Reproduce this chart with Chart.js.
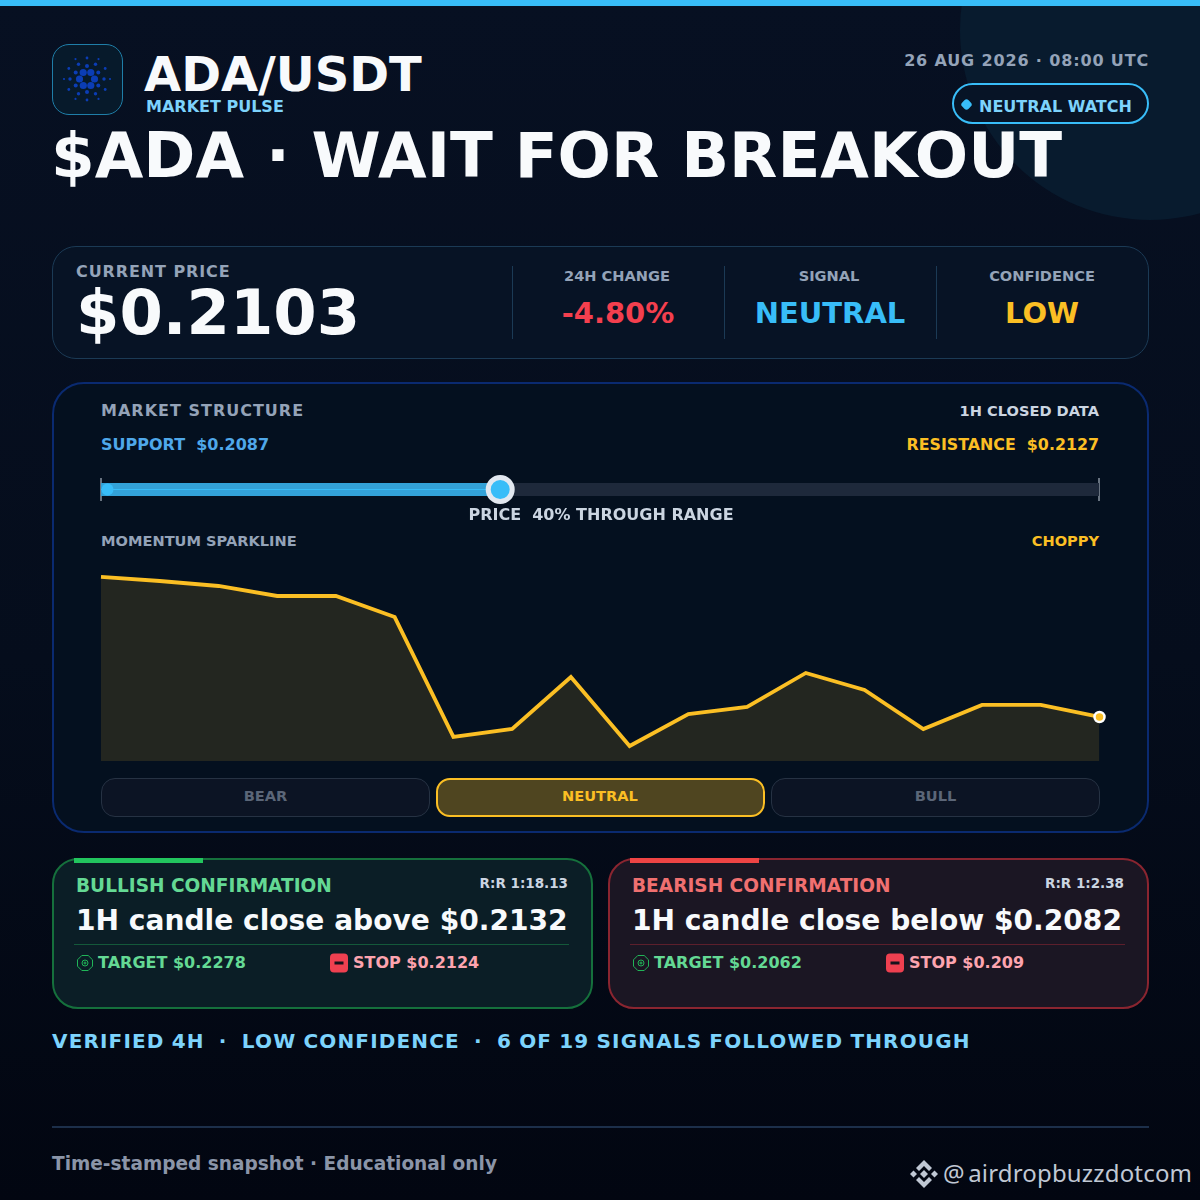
<!DOCTYPE html>
<html>
<head>
<meta charset="utf-8">
<title>ADA/USDT market pulse</title>
<script src="https://cdn.jsdelivr.net/npm/chart.js@4/dist/chart.umd.min.js"></script>
<style>
  html, body { margin: 0; padding: 0; }
  body { width: 1200px; height: 1200px; overflow: hidden; position: relative; font-family: "DejaVu Sans", sans-serif;
         background: linear-gradient(180deg, #071022 0%, #050d1c 55%, #020611 100%); }
  .box { position: absolute; box-sizing: border-box; }
  .t { position: absolute; white-space: pre; font-weight: 700; line-height: 1; }
  canvas { position: absolute; }
  svg { position: absolute; overflow: visible; }
</style>
</head>
<body>
<div class="box" style="left:0;top:0;width:1200px;height:6px;background:#38bdf8;z-index:2"></div>
<div class="box" style="left:960px;top:-160px;width:380px;height:380px;border-radius:50%;background:#081b2e"></div>

<div class="box" style="left:52px;top:44px;width:71px;height:71px;border-radius:17px;border:1px solid #1f7ea8;background:#071a2b"></div>
<svg id="logo" style="left:87px;top:79px" width="1" height="1"></svg>

<div class="box" style="left:952px;top:83px;width:197px;height:41px;border-radius:21px;border:2px solid #38bdf8;background:#071426"></div>
<div class="box" style="left:962px;top:100px;width:9px;height:9px;border-radius:3px;background:#38bdf8;transform:rotate(45deg)"></div>

<div class="box" style="left:52px;top:246px;width:1097px;height:113px;border-radius:24px;border:1px solid #1b3a55;background:#071325"></div>
<div class="box" style="left:512px;top:266px;width:1px;height:73px;background:#1b3a55"></div>
<div class="box" style="left:724px;top:266px;width:1px;height:73px;background:#1b3a55"></div>
<div class="box" style="left:936px;top:266px;width:1px;height:73px;background:#1b3a55"></div>

<div class="box" style="left:52px;top:382px;width:1097px;height:451px;border-radius:32px;border:2px solid #0a2a70;background:#04101f"></div>
<canvas id="rangeChart" width="1018" height="43" style="left:91px;top:468px;width:1018px;height:43px"></canvas>
<canvas id="sparkChart" width="1019" height="205" style="left:91px;top:566px;width:1019px;height:205px"></canvas>

<div class="box" style="left:101px;top:778px;width:329px;height:39px;border-radius:14px;border:1px solid #263243;background:#0c1424"></div>
<div class="box" style="left:436px;top:778px;width:329px;height:39px;border-radius:14px;border:2px solid #fbbf24;background:#4f4520"></div>
<div class="box" style="left:771px;top:778px;width:329px;height:39px;border-radius:14px;border:1px solid #263243;background:#0c1424"></div>

<div class="box" style="left:52px;top:858px;width:541px;height:151px;border-radius:26px;border:2px solid #15703c;background:#0b1e26"></div>
<div class="box" style="left:74px;top:858px;width:129px;height:5px;background:#22c55e"></div>
<div class="box" style="left:74px;top:944px;width:495px;height:1px;background:#14593a"></div>
<div class="box" style="left:608px;top:858px;width:541px;height:151px;border-radius:26px;border:2px solid #8a2530;background:#1b1623"></div>
<div class="box" style="left:630px;top:858px;width:129px;height:5px;background:#ef4444"></div>
<div class="box" style="left:630px;top:944px;width:495px;height:1px;background:#5c1f2c"></div>

<svg class="target" style="left:85px;top:963px" width="1" height="1"></svg>
<svg class="target" style="left:641px;top:963px" width="1" height="1"></svg>
<svg class="stop" style="left:339px;top:963px" width="1" height="1"></svg>
<svg class="stop" style="left:895px;top:963px" width="1" height="1"></svg>

<div class="box" style="left:52px;top:1126px;width:1097px;height:2px;background:#1c2f4a"></div>
<svg id="binance" style="left:924px;top:1174px" width="1" height="1">
  <g fill="#c0c8d4">
    <polygon points="0,-4 4,0 0,4 -4,0"/>
    <polygon points="-14,0 -10.5,-3.5 -7,0 -10.5,3.5"/>
    <polygon points="14,0 10.5,-3.5 7,0 10.5,3.5"/>
    <polygon points="0,-14 8,-6 5,-3 0,-8 -5,-3 -8,-6"/>
    <polygon points="0,14 8,6 5,3 0,8 -5,3 -8,6"/>
  </g>
</svg>

<script>
  // momentum, 0-100 of the sparkline's own range
  const sparkHours = ['-17h', '-16h', '-15h', '-14h', '-13h', '-12h', '-11h', '-10h', '-9h', '-8h', '-7h', '-6h', '-5h', '-4h', '-3h', '-2h', '-1h', '0h'];
  const sparkMomentum = [99.5, 97.3, 94.6, 89.2, 89.2, 77.8, 13, 17.3, 45.4, 8.1, 25.4, 29.2, 47.6, 38.4, 17.3, 30.3, 30.3, 23.8];
  // position inside the support/resistance range, percent
  const rangeStart = 0;
  const rangeEnd = 100;
  const rangeLowDot = 0.65;
  const rangePrice = 40;

  const LIGHT = '#cbd5e1', GREY = '#94a3b8', DIM = '#5b6678', WHITE = '#f8fafc', SKY = '#7dd3fc', CYAN = '#38bdf8';
  const AMBER = '#fbbf24', RED = '#f43f4e', GREEN = '#64d994', ROSE = '#fda4af', BLUE = '#4fa8ea';

  // x is the left edge, centre or right edge (by align), y is the baseline
  function txt(str, x, y, size, color, align, spacing, family, ascent) {
    let d = document.createElement('div');
    d.className = 't';
    d.textContent = str;
    d.style.fontSize = size + 'px';
    d.style.color = color;
    d.style.top = (y - (ascent || 0.846) * size) + 'px';
    if (spacing) d.style.letterSpacing = spacing + 'px';
    if (family) { d.style.fontFamily = family; d.style.fontWeight = 400; }
    if (align === 'r') d.style.right = (1200 - x) + 'px';
    else if (align === 'c') { d.style.left = (x - 300) + 'px'; d.style.width = '600px'; d.style.textAlign = 'center'; }
    else d.style.left = x + 'px';
    d.style.zIndex = 3;
    document.body.appendChild(d);
    return d;
  }

  txt('ADA/USDT', 144, 91, 48, WHITE);
  txt('MARKET PULSE', 146, 113, 16, SKY);
  txt('$ADA · WAIT FOR BREAKOUT', 51, 178, 62.8, WHITE);
  txt('26 AUG 2026 · 08:00 UTC', 1149, 67, 16, GREY, 'r', 0.85);
  txt('NEUTRAL WATCH', 979, 113, 16, SKY);

  txt('CURRENT PRICE', 76, 278, 16, GREY, 'l', 0.9);
  txt('$0.2103', 76, 335, 62.4, WHITE);
  txt('24H CHANGE', 617, 281, 14.6, GREY, 'c');
  txt('-4.80%', 618, 324, 29, RED, 'c');
  txt('SIGNAL', 829, 281, 14.6, GREY, 'c');
  txt('NEUTRAL', 830, 324, 29, CYAN, 'c');
  txt('CONFIDENCE', 1042, 281, 14.6, GREY, 'c');
  txt('LOW', 1042, 324, 29, AMBER, 'c');

  txt('MARKET STRUCTURE', 101, 417, 16, GREY, 'l', 1);
  txt('1H CLOSED DATA', 1099, 416, 14.6, LIGHT, 'r');
  txt('SUPPORT  $0.2087', 101, 451, 16, BLUE);
  txt('RESISTANCE  $0.2127', 1099, 450, 15.85, AMBER, 'r');
  txt('PRICE  40% THROUGH RANGE', 601, 521, 16, LIGHT, 'c');
  txt('MOMENTUM SPARKLINE', 101, 546, 14.6, GREY);
  txt('CHOPPY', 1099, 546, 14.6, AMBER, 'r');

  txt('BEAR', 265.5, 801, 14.6, DIM, 'c');
  txt('NEUTRAL', 600, 801, 14.6, AMBER, 'c');
  txt('BULL', 935.5, 801, 14.6, DIM, 'c');

  txt('BULLISH CONFIRMATION', 76, 893, 18.55, GREEN);
  txt('R:R 1:18.13', 568, 888, 13.5, LIGHT, 'r');
  txt('1H candle close above $0.2132', 76, 931, 28.1, WHITE);
  txt('TARGET $0.2278', 98, 969, 16, GREEN);
  txt('STOP $0.2124', 353, 969, 16, ROSE);

  txt('BEARISH CONFIRMATION', 632, 893, 18.55, '#f07070');
  txt('R:R 1:2.38', 1124, 888, 13.5, LIGHT, 'r');
  txt('1H candle close below $0.2082', 632, 931, 28.1, WHITE);
  txt('TARGET $0.2062', 654, 969, 16, GREEN);
  txt('STOP $0.209', 909, 969, 16, ROSE);

  txt('VERIFIED 4H  ·  LOW CONFIDENCE  ·  6 OF 19 SIGNALS FOLLOWED THROUGH', 52, 1048, 20, SKY, 'l', 1.15).style.wordSpacing = '-1px';
  txt('Time-stamped snapshot · Educational only', 52, 1171, 18.55, '#8b95a8');
  txt('@ airdropbuzzdotcom', 943, 1182, 24, '#c0c8d4', 'l', 0.17, '"Noto Sans", sans-serif', 0.888).style.wordSpacing = '-3px';

  // cardano style dot rings: radius, dot radius, angle offset
  const logoRings = [[7.5, 3.6, 0], [13, 2, 30], [17, 1.7, 0], [21, 1.4, 30], [23, 1.1, 0]];
  let logoSvg = '';
  logoRings.forEach(function(ring) {
    for (let i = 0; i < 6; i++) {
      let a = (ring[2] + i * 60) * Math.PI / 180;
      logoSvg += '<circle cx="' + (ring[0] * Math.cos(a)).toFixed(1) + '" cy="' + (ring[0] * Math.sin(a)).toFixed(1) + '" r="' + ring[1] + '" fill="#0b3db5"/>';
    }
  });
  document.getElementById('logo').innerHTML = logoSvg;

  document.querySelectorAll('.target').forEach(function(s) {
    s.innerHTML = '<polygon points="-3.2,-7.5 3.2,-7.5 7.5,-3.2 7.5,3.2 3.2,7.5 -3.2,7.5 -7.5,3.2 -7.5,-3.2" fill="none" stroke="#22c55e" stroke-width="0.9"/>' +
      '<circle r="3" fill="none" stroke="#22c55e" stroke-width="0.9"/><path d="M-1.5 0H1.5M0 -1.5V1.5" stroke="#22c55e" stroke-width="0.9"/>';
  });
  document.querySelectorAll('.stop').forEach(function(s) {
    s.innerHTML = '<rect x="-9" y="-9.5" width="18" height="19" rx="4" fill="#ef4050"/><rect x="-4.5" y="-1.5" width="9" height="3" fill="#16121c"/>';
  });

  new Chart(document.getElementById('rangeChart').getContext('2d'), {
    type: 'scatter',
    data: {
      datasets: [
        { data: [{ x: rangeLowDot, y: 0 }], clip: false, pointRadius: 6, pointBackgroundColor: CYAN, pointBorderWidth: 0 },
        { data: [{ x: rangePrice, y: 0 }], clip: false, pointRadius: 12, pointBackgroundColor: CYAN, pointBorderColor: '#e2e8f0', pointBorderWidth: 5 },
        { data: [{ x: rangeStart, y: 0 }, { x: rangePrice, y: 0 }], clip: false, showLine: true, borderColor: CYAN, borderWidth: 1, pointRadius: 0 },
        { data: [{ x: rangeStart, y: 0 }, { x: rangePrice, y: 0 }], clip: false, showLine: true, borderColor: '#33a2d8', borderWidth: 13, pointRadius: 0 },
        { data: [{ x: rangeStart, y: 0 }, { x: rangeEnd, y: 0 }], clip: false, showLine: true, borderColor: '#1e293b', borderWidth: 13, pointRadius: 0 },
        { data: [{ x: rangeStart, y: -1 }, { x: rangeStart, y: 1 }], clip: false, showLine: true, borderColor: LIGHT, borderWidth: 1, pointRadius: 0 },
        { data: [{ x: rangeEnd, y: -1 }, { x: rangeEnd, y: 1 }], clip: false, showLine: true, borderColor: LIGHT, borderWidth: 1, pointRadius: 0 }
      ]
    },
    options: {
      responsive: false,
      animation: false,
      devicePixelRatio: 1,
      layout: { padding: 10, autoPadding: false },
      plugins: { legend: { display: false }, tooltip: { enabled: false } },
      scales: {
        x: { type: 'linear', display: false, min: rangeStart, max: rangeEnd },
        y: { type: 'linear', display: false, min: -1, max: 1 }
      }
    }
  });

  new Chart(document.getElementById('sparkChart').getContext('2d'), {
    type: 'line',
    data: {
      labels: sparkHours,
      datasets: [{
        data: sparkMomentum,
        borderColor: AMBER,
        borderWidth: 3.8,
        backgroundColor: 'rgba(251,191,36,0.13)',
        fill: 'origin',
        tension: 0,
        clip: false,
        borderJoinStyle: 'miter',
        pointRadius: function(ctx) { return ctx.dataIndex === sparkMomentum.length - 1 ? 5 : 0; },
        pointBackgroundColor: AMBER,
        pointBorderColor: '#ffffff',
        pointBorderWidth: 2.5
      }]
    },
    options: {
      responsive: false,
      animation: false,
      devicePixelRatio: 1,
      layout: { padding: { left: 10, right: 10.5, top: 10, bottom: 10 }, autoPadding: false },
      plugins: { legend: { display: false }, tooltip: { enabled: false } },
      scales: {
        x: { display: false, offset: false },
        y: { display: false, min: 0, max: 100 }
      }
    }
  });
</script>
</body>
</html>
